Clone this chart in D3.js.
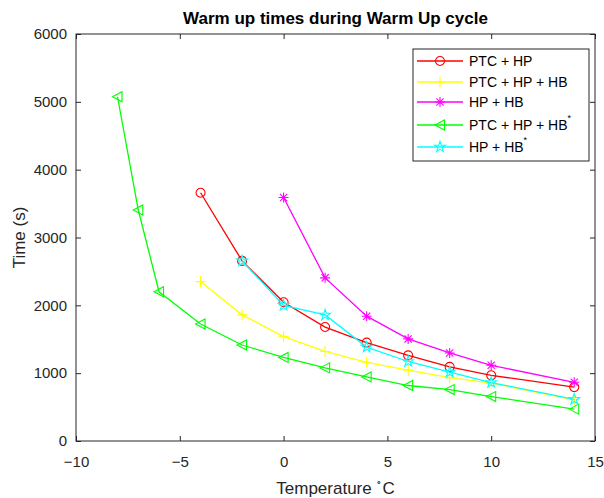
<!DOCTYPE html>
<html>
<head>
<meta charset="utf-8">
<script src="https://cdn.jsdelivr.net/npm/d3@7"></script>
<style>
  body { margin: 0; background: #fff; }
  svg { font-family: "Liberation Sans", Arial, Helvetica, sans-serif; }
  .axis text { fill: #262626; font-size: 15px; }
  .axis line { stroke: #262626; }
  .axis path { display: none; }
</style>
</head>
<body>
<svg width="604" height="498"></svg>
<script>
// ---- Dados
const seriesNames = ['PTC + HP', 'PTC + HP + HB', 'HP + HB', 'PTC + HP + HB', 'HP + HB'];
const seriesStar = [false, false, false, true, true];
const seriesColors = ['#ff0000', '#ffff00', '#ff00ff', '#00ff00', '#00ffff'];
const seriesMarkers = ['circle', 'plus', 'asterisk', 'triangle', 'star'];

const tempPtcHp = [-4, -2, 0, 2, 4, 6, 8, 10, 14];
const timePtcHp = [3660, 2655, 2045, 1680, 1450, 1262, 1092, 968, 795];

const tempPtcHpHb = [-4, -2, 0, 2, 4, 6, 8, 10, 14];
const timePtcHpHb = [2350, 1860, 1540, 1320, 1160, 1045, 935, 852, 608];

const tempHpHb = [0, 2, 4, 6, 8, 10, 14];
const timeHpHb = [3590, 2405, 1840, 1505, 1298, 1116, 865];

const tempPtcHpHbStar = [-8, -7, -6, -4, -2, 0, 2, 4, 6, 8, 10, 14];
const timePtcHpHbStar = [5075, 3405, 2200, 1725, 1415, 1232, 1078, 945, 818, 758, 655, 470];

const tempHpHbStar = [-2, 0, 2, 4, 6, 8, 10, 14];
const timeHpHbStar = [2655, 2000, 1858, 1385, 1172, 1015, 862, 615];

const xTicks = [-10, -5, 0, 5, 10, 15];
const yTicks = [0, 1000, 2000, 3000, 4000, 5000, 6000];

const allSeries = [
    { x: tempPtcHp, y: timePtcHp },
    { x: tempPtcHpHb, y: timePtcHpHb },
    { x: tempHpHb, y: timeHpHb },
    { x: tempPtcHpHbStar, y: timePtcHpHbStar },
    { x: tempHpHbStar, y: timeHpHbStar }
].map((s, i) => ({
    name: seriesNames[i],
    star: seriesStar[i],
    color: seriesColors[i],
    marker: seriesMarkers[i],
    points: s.x.map((x, j) => ({ x: x, y: s.y[j] }))
}));

// ---- Marcadores (estilo MATLAB)
const markerPath = (type) => {
    switch (type) {
        case 'circle': return d3.symbol(d3.symbolCircle, 64)();
        case 'plus': return 'M-5,0H5M0,-5.5V5.5';
        case 'asterisk': return 'M-5,0H5M0,-5V5M-3.6,-3.6L3.6,3.6M-3.6,3.6L3.6,-3.6';
        case 'triangle': return 'M-5,0L4.5,-5L4.5,5Z';
        case 'star': return d3.symbol(d3.symbolStar, 36)();
    }
};

const margens = { left: 76, right: 9, top: 34, bottom: 57 };
const svg = d3.select('svg');
const svgWidth = +svg.attr('width') - margens.left - margens.right;
const svgHeight = +svg.attr('height') - margens.top - margens.bottom;

// ---- Escalas
const mapX = d3.scaleLinear().domain([-10, 15]).range([0, svgWidth]);
const mapY = d3.scaleLinear().domain([0, 6000]).range([svgHeight, 0]);

const plot = svg.append('g')
    .attr('transform', `translate(${margens.left}, ${margens.top})`);

// ---- Eixos (ticks para dentro, como no MATLAB)
plot.append('g')
    .attr('class', 'axis')
    .attr('transform', `translate(0, ${svgHeight})`)
    .call(d3.axisBottom(mapX).tickValues(xTicks).tickSize(-5).tickPadding(15).tickFormat(d3.format('d')));

plot.append('g')
    .attr('class', 'axis')
    .call(d3.axisTop(mapX).tickValues(xTicks).tickSize(-5).tickFormat(''));

plot.append('g')
    .attr('class', 'axis')
    .call(d3.axisLeft(mapY).tickValues(yTicks).tickSize(-5).tickPadding(9).tickFormat(d3.format('d')));

plot.append('g')
    .attr('class', 'axis')
    .attr('transform', `translate(${svgWidth}, 0)`)
    .call(d3.axisRight(mapY).tickValues(yTicks).tickSize(-5).tickFormat(''));

plot.append('rect')
    .attr('width', svgWidth)
    .attr('height', svgHeight)
    .attr('fill', 'none')
    .attr('stroke', '#262626')
    .attr('stroke-width', 1);

// ---- Linhas e marcadores
const line = d3.line().x(d => mapX(d.x)).y(d => mapY(d.y));

const groups = plot.selectAll('.series').data(allSeries)
    .join('g')
    .attr('class', 'series');

groups.append('path')
    .attr('d', d => line(d.points))
    .attr('fill', 'none')
    .attr('stroke', d => d.color)
    .attr('stroke-width', 1.3);

groups.each(function (s) {
    d3.select(this).selectAll('path.marker').data(s.points)
        .join('path')
        .attr('class', 'marker')
        .attr('transform', d => `translate(${mapX(d.x)}, ${mapY(d.y)})`)
        .attr('d', markerPath(s.marker))
        .attr('fill', 'none')
        .attr('stroke', s.color)
        .attr('stroke-width', 1.1);
});

// ---- Titulo e rotulos
svg.append('text')
    .attr('x', margens.left + svgWidth / 2)
    .attr('y', 24)
    .attr('text-anchor', 'middle')
    .style('font-size', '17px')
    .style('font-weight', 'bold')
    .style('fill', '#000')
    .text('Warm up times during Warm Up cycle');

const xLabel = svg.append('text')
    .attr('x', margens.left + svgWidth / 2)
    .attr('y', 494)
    .attr('text-anchor', 'middle')
    .style('font-size', '17px')
    .style('fill', '#262626');
xLabel.append('tspan').text('Temperature ');
xLabel.append('tspan').attr('dy', -8).style('font-size', '9px').text('\u2218');
xLabel.append('tspan').attr('dy', 8).text('C');

svg.append('text')
    .attr('transform', 'rotate(-90)')
    .attr('x', -(margens.top + svgHeight / 2))
    .attr('y', 25)
    .attr('text-anchor', 'middle')
    .style('font-size', '17px')
    .style('fill', '#262626')
    .text('Time (s)');

// ---- Legenda
const legendY = [61, 82, 102, 125, 147];
const legend = svg.append('g');

legend.append('rect')
    .attr('x', 413)
    .attr('y', 49)
    .attr('width', 176)
    .attr('height', 112)
    .attr('fill', '#fff')
    .attr('stroke', '#262626')
    .attr('stroke-width', 1);

const items = legend.selectAll('.item').data(allSeries)
    .join('g')
    .attr('class', 'item')
    .attr('transform', (d, i) => `translate(0, ${legendY[i]})`);

items.append('line')
    .attr('x1', 417).attr('x2', 463)
    .attr('stroke', d => d.color)
    .attr('stroke-width', 1.3);

items.append('path')
    .attr('transform', 'translate(440, 0)')
    .attr('d', d => markerPath(d.marker))
    .attr('fill', 'none')
    .attr('stroke', d => d.color)
    .attr('stroke-width', 1.1);

const labels = items.append('text')
    .attr('x', 469)
    .attr('y', 5)
    .style('font-size', '14px')
    .style('fill', '#000');
labels.append('tspan').text(d => d.name);
labels.filter(d => d.star).append('tspan')
    .attr('dy', -9)
    .style('font-size', '9px')
    .text('*');
</script>
</body>
</html>
